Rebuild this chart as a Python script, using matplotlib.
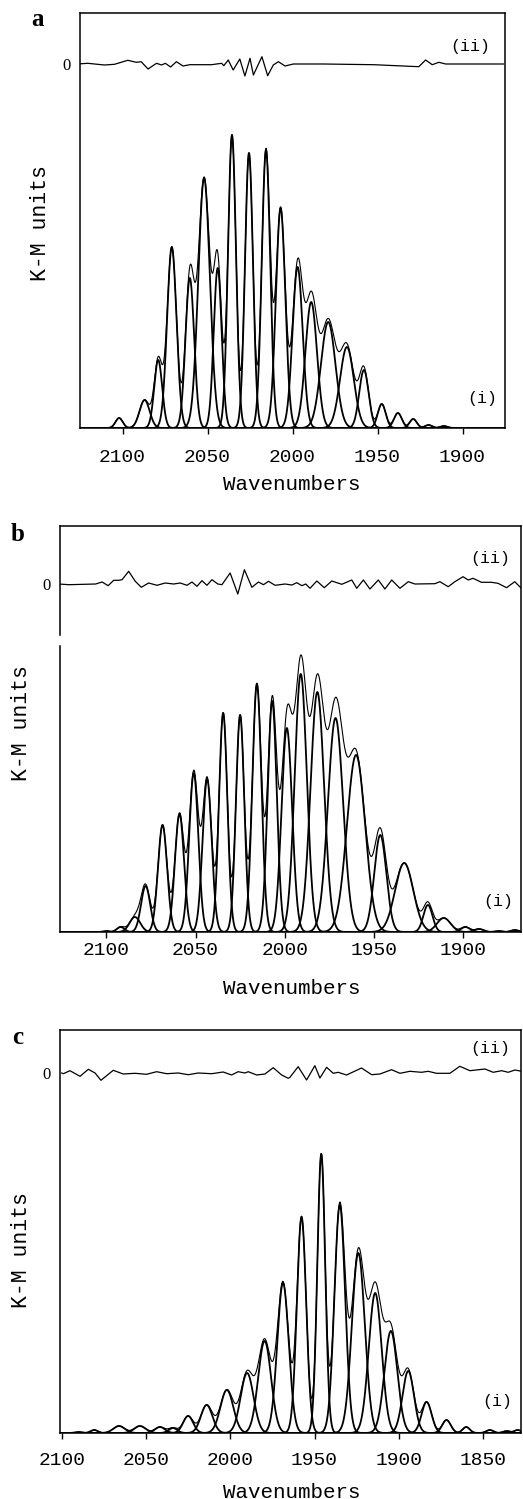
import numpy as np
import matplotlib.pyplot as plt

# fitted components: centre (cm-1), height, fwhm (cm-1)
a_pos = [2102, 2087, 2079, 2071, 2060.4, 2052, 2044, 2035.6, 2025.6, 2015.6, 2007,
         1997, 1989, 1979, 1968, 1958, 1947.5, 1938, 1929, 1920, 1911]
a_hgt = [10, 28, 68, 181, 150, 250, 160, 293, 275, 278, 220,
         161, 126, 106, 81, 58, 24, 15, 9, 3, 2]
a_fwhm = [5, 7, 5.5, 6.5, 6, 8, 5.5, 5.5, 5.5, 5.8, 6.5,
          7, 8, 10, 9.5, 6.5, 5.5, 5.5, 5, 5, 5]

b_pos = [2100, 2092, 2084, 2078, 2068.5, 2059, 2051, 2043.5, 2034.5, 2025, 2015.6,
         2007, 1998.8, 1991, 1981.7, 1971.5, 1960, 1946.4, 1933, 1919.7, 1910.8,
         1898.7, 1891, 1880, 1871]
b_hgt = [1, 5, 15, 46, 107, 118, 159, 153, 219, 217, 248,
         231, 204, 258, 240, 214, 177, 97, 69, 27, 14,
         5, 3, 1, 2]
b_fwhm = [4, 5, 7, 6, 6, 6, 6, 6, 5.5, 5.5, 6,
          6, 7, 8, 9, 10, 12, 8, 12, 6, 9,
          6, 6, 5, 5]

c_pos = [2090, 2080.7, 2066, 2053.6, 2041.7, 2034, 2025, 2014, 2002, 1990, 1979.6,
         1968.7, 1957.7, 1946, 1935, 1924, 1914, 1904.7, 1894.4, 1883.5, 1871.7,
         1860, 1846, 1836, 1829.5]
c_hgt = [1, 3, 7, 7, 6, 5, 17, 28, 43, 60, 92,
         150, 216, 279, 228, 180, 140, 102, 62, 31, 13,
         6, 3, 2, 3]
c_fwhm = [5, 5, 8, 8, 7, 6, 7, 8, 9, 9, 9,
          8, 6.5, 5.5, 7.5, 9, 9, 9, 8, 7, 6,
          5, 5, 5, 5]

# residuals (ii), wavenumber / value
a_res_wn = [2126.4, 2120.5, 2110.6, 2104.7, 2096.9, 2091.9, 2089, 2085, 2080, 2077,
            2074.8, 2071.7, 2068.3, 2064.4, 2060.5, 2047.6, 2041.7, 2040.4, 2037.8,
            2034.9, 2031, 2028, 2025, 2023, 2018, 2014.6, 2011.3, 2008.3, 2004.4,
            1999.5, 1981.8, 1952.2, 1925.7, 1921.7, 1917.8, 1913.9, 1909.9, 1876]
a_res_val = [0, 0.7, -1, -0.3, 3.7, 1.7, 2.3, -5, 0.7, -1,
             0.7, -3, 2.3, -2, -0.7, -0.7, 0.7, -1.7, 4,
             -6, 5, -12, 5.7, -11, 7.3, -11.7, -1, 2.3, -2,
             0, 0, -0.7, -2.7, 4, -0.7, 1.7, 0, 0]

b_res_wn = [2126.7, 2121, 2106, 2102.4, 2099, 2095.9, 2093, 2091.2, 2087.5, 2083.8,
            2080.4, 2076.3, 2071.6, 2067, 2062.3, 2058.6, 2054.8, 2052, 2049.2,
            2046.4, 2043.6, 2040.8, 2037.5, 2035.2, 2030.6, 2026.3, 2022.6, 2018.4,
            2014.7, 2011.9, 2009.1, 2005.4, 1999.8, 1996, 1993.2, 1990.4, 1988.2,
            1985.8, 1982, 1977.8, 1973.6, 1968, 1962.4, 1959.6, 1955.9, 1952.2,
            1947.5, 1943.8, 1940, 1935.4, 1930.7, 1927, 1915.8, 1913, 1908.3,
            1904.6, 1900, 1897.1, 1894.4, 1889.7, 1884.1, 1880.4, 1875.6, 1871,
            1867.3]
b_res_val = [0, -0.7, 0, 2, -1.7, 3.7, 3.7, 4.3, 12.7, 2.7,
             -3.3, 1, -1.3, 1, 0, 1, -1.3, 2, -2.3,
             3.3, -1.3, 4.3, 0, -0.7, 11, -10, 14.3, -3.3,
             2, -0.7, 2.7, -1.3, 0, -1, 1.3, -1.7, 0,
             -4.3, 3, -3.7, 3, -0.3, 4, -4.3, 4, -5,
             4, -5, 4, -4.3, 2.3, 0, 0.3, 2.3, -2.7,
             2.3, 7.3, 4, 5.7, 1.7, 1.7, 0.7, -3.7, 2.3,
             -4.3]

c_res_wn = [2100, 2099, 2095.1, 2089.1, 2084.2, 2080.2, 2076.7, 2069.4, 2063.5, 2056.5,
            2049.6, 2043.7, 2037.7, 2030.8, 2024.9, 2019, 2011, 2004.2, 1999.2,
            1995.3, 1991.3, 1989.3, 1984.3, 1979.4, 1974.5, 1969.5, 1965.6, 1964.6,
            1959.7, 1954.7, 1949.8, 1946.8, 1942.8, 1938.9, 1936, 1931, 1922.1,
            1916.1, 1911.2, 1904.3, 1899.3, 1893.4, 1886.5, 1882.6, 1877.6, 1869.7,
            1863.8, 1857.8, 1848.9, 1844, 1839, 1835.1, 1831.1, 1827.2]
c_res_val = [0, -0.7, 2.3, -3.3, 3.7, 0, -7.3, 2.7, -1, -0.3,
             -1.3, 1.3, -0.7, 0, -1.7, 0, -0.7, 1, -2,
             1.3, 0, 1.3, -2, -1, 5.3, -2, -5.3, -4.3,
             6.3, -7, 7.3, -5, 5.7, -0.3, 0.7, -2, 5,
             -1.7, -1, 3.3, -0.3, 1.7, 0.7, 1.7, -0.3, -0.3,
             6.7, 2.3, 4, 0.7, 2.3, 0.7, 3, 1.7]

mono = 'Liberation Mono'

fig = plt.figure(figsize=(5.23, 14.99), dpi=100)


def panel(rect, pos, hgt, fwhm, res_wn, res_val, zero, xlim, top, ticks, pad, lab_ii, lab_i):
    ax = fig.add_axes(rect)
    x = np.linspace(xlim[0], xlim[1], 3000)
    total = np.zeros_like(x)
    for c, h, w in zip(pos, hgt, fwhm):
        g = h * np.exp(-4 * np.log(2) * (x - c) ** 2 / w ** 2)
        total += g
        ax.plot(x, g, color='black', lw=1.3)
    ax.plot(x, total, color='black', lw=0.8)
    ax.plot(res_wn, np.array(res_val) + zero, color='black', lw=0.9)
    ax.set_xlim(xlim)
    ax.set_ylim(0, top)
    ax.set_xticks(ticks)
    ax.set_xticklabels([str(t) for t in ticks], family=mono, fontsize=14)
    ax.tick_params(axis='x', direction='out', length=4, width=1, pad=pad)
    ax.set_yticks([zero])
    ax.set_yticklabels(['0'], fontsize=12, family='Liberation Serif')
    ax.tick_params(axis='y', length=0, pad=7)
    for s in ax.spines.values():
        s.set_linewidth(1.1)
    ax.text(lab_ii[0], lab_ii[1], '(ii)', transform=ax.transAxes, family=mono,
            fontsize=12, ha='center', va='center')
    ax.text(lab_i[0], lab_i[1], '(i)', transform=ax.transAxes, family=mono,
            fontsize=12, ha='center', va='center')
    return ax


panel([80 / 523, 1 - 428 / 1499, 425 / 523, 415 / 1499], a_pos, a_hgt, a_fwhm,
      a_res_wn, a_res_val, 364, (2125, 1875), 415, [2100, 2050, 2000, 1950, 1900], 11,
      (0.918, 0.920), (0.946, 0.072))
axb = panel([60 / 523, 1 - 932 / 1499, 461 / 523, 406 / 1499], b_pos, b_hgt, b_fwhm,
            b_res_wn, b_res_val, 348, (2126, 1867.5), 406, [2100, 2050, 2000, 1950, 1900], 3,
            (0.933, 0.919), (0.950, 0.076))
# small break in the left frame line of panel b
axb.plot([0, 0], [0.712, 0.726], transform=axb.transAxes, color='white', lw=2.5,
         clip_on=False, zorder=5)
panel([60 / 523, 1 - 1433 / 1499, 461 / 523, 403 / 1499], c_pos, c_hgt, c_fwhm,
      c_res_wn, c_res_val, 360, (2101, 1827.5), 403, [2100, 2050, 2000, 1950, 1900, 1850], 9.5,
      (0.933, 0.953), (0.948, 0.077))

for letter, lx, ly in [('a', 37, 20), ('b', 18, 535), ('c', 18, 1037)]:
    fig.text(lx / 523, 1 - ly / 1499, letter, family='Liberation Serif',
             fontweight='bold', fontsize=18, ha='center', va='center')
for yx, yy in [(40, 223), (22, 723), (22, 1250)]:
    fig.text(yx / 523, 1 - yy / 1499, 'K-M units', family=mono, fontsize=15.5,
             rotation=90, ha='center', va='center')
for wy in [485, 988, 1492]:
    fig.text(292 / 523, 1 - wy / 1499, 'Wavenumbers', family=mono, fontsize=15,
             ha='center', va='center')

fig.savefig('out.png', dpi=100)
